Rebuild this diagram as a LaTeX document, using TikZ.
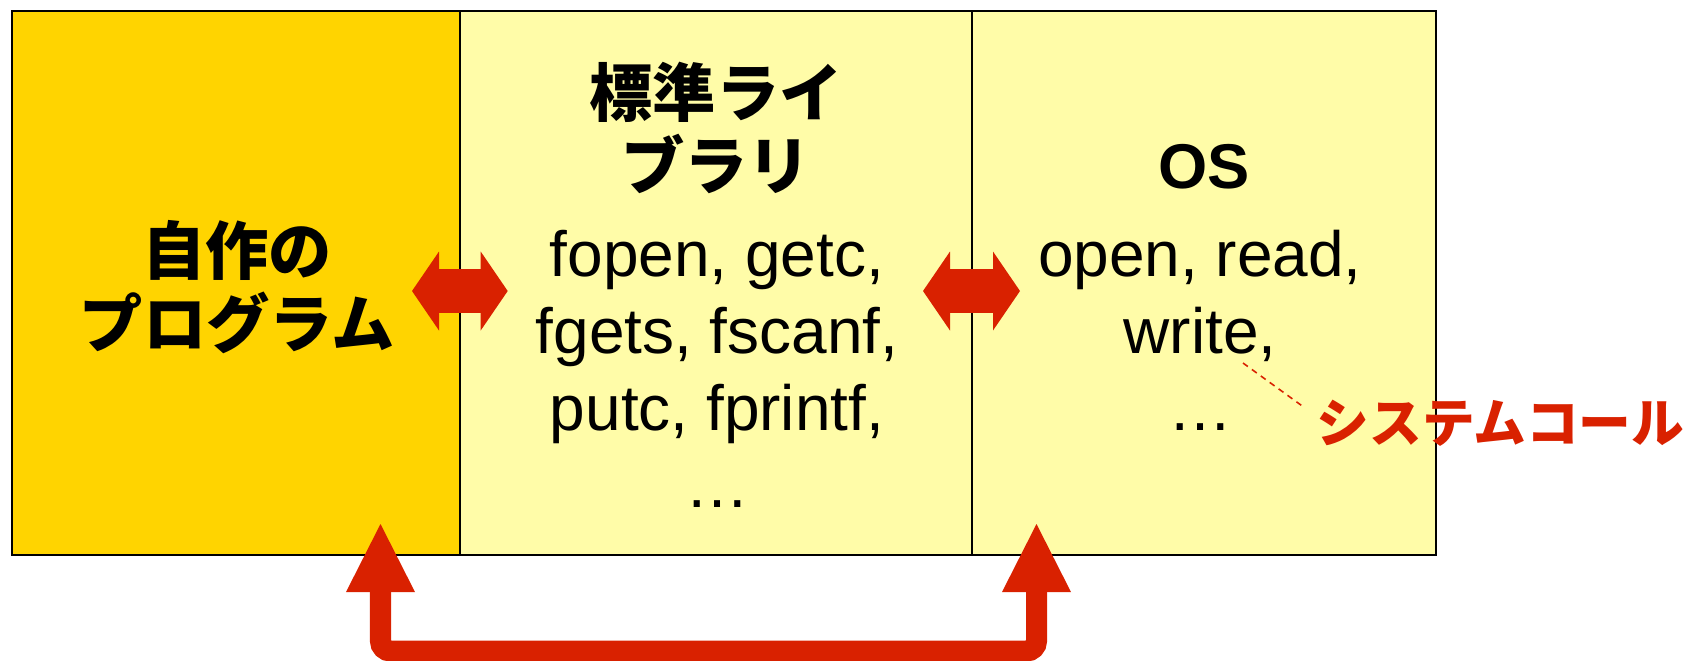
\documentclass[tikz,border=0pt]{standalone}
\usepackage{fontspec}
\setmainfont{Liberation Sans}
\newfontfamily\jpfont{Noto Sans CJK JP}
\usetikzlibrary{positioning,arrows.meta}
\definecolor{gold}{HTML}{FFD400}
\definecolor{pale}{HTML}{FFFCA8}
\definecolor{jred}{HTML}{D92100}
\tikzset{
  box/.style={draw=black,line width=0.6pt,inner sep=0pt,outer sep=0pt,minimum height=5.44cm},
  jp/.style={align=center,inner sep=0pt,font=\jpfont\bfseries\fontsize{18pt}{21pt}\selectfont},
  en/.style={align=center,inner sep=0pt,font=\fontsize{18.2pt}{21.9pt}\selectfont},
  fatarrow/.style={draw=jred,line width=0.44cm,
    {Triangle[width=0.79cm,length=0.27cm,line width=0pt]}-{Triangle[width=0.79cm,length=0.27cm,line width=0pt]}},
  looparrow/.style={draw=jred,line width=0.21cm,rounded corners=0.1cm,
    {Triangle[width=0.69cm,length=0.68cm,line width=0pt]}-{Triangle[width=0.69cm,length=0.68cm,line width=0pt]}}
}
\begin{document}
\begin{tikzpicture}
  \useasboundingbox (0,0) rectangle (16.93,-6.60);
  % three layers
  \node[box,fill=gold,minimum width=4.48cm] (prog) at (2.36,-2.83) {};
  \node[box,fill=pale,minimum width=5.12cm,right=0pt of prog] (lib) {};
  \node[box,fill=pale,minimum width=4.64cm,right=0pt of lib] (os) {};
  \node[jp] (progtxt) at (2.37,-2.87) {自作の\\プログラム};
  \node[jp] (libhead) at (7.16,-1.28) {標準ライ\\ブラリ};
  \node[en] (libfun) at (7.17,-3.69) {fopen, getc,\\fgets, fscanf,\\putc, fprintf,\\…};
  \node[en,font=\bfseries\fontsize{18pt}{21pt}\selectfont] (ostitle) at (12.04,-1.67) {OS};
  \node[en] (osfun) at (12.00,-3.305) {open, read,\\write,\\…};
  \node[jp,font=\jpfont\bfseries\fontsize{15pt}{18pt}\selectfont,text=jred,anchor=west] (sys) at (13.16,-4.23) {システムコール};
  % calls
  \draw[fatarrow] ([shift={(-0.48,-0.08)}]prog.east) -- ([shift={(0.477,-0.08)}]prog.east);
  \draw[fatarrow] ([shift={(-0.49,-0.08)}]os.west) -- ([shift={(0.48,-0.08)}]os.west);
  \coordinate (progin) at (3.805,-5.24);
  \coordinate (osin) at (10.365,-5.24);
  \draw[looparrow] (progin) -- ++(0,-1.27) -| (osin);
  \coordinate (wr) at (12.43,-3.63);
  \draw[jred,line width=0.45pt,dash pattern=on 0.06cm off 0.05cm] (wr) -- ([shift={(-0.11,0.15)}]sys.west);
\end{tikzpicture}
\end{document}
